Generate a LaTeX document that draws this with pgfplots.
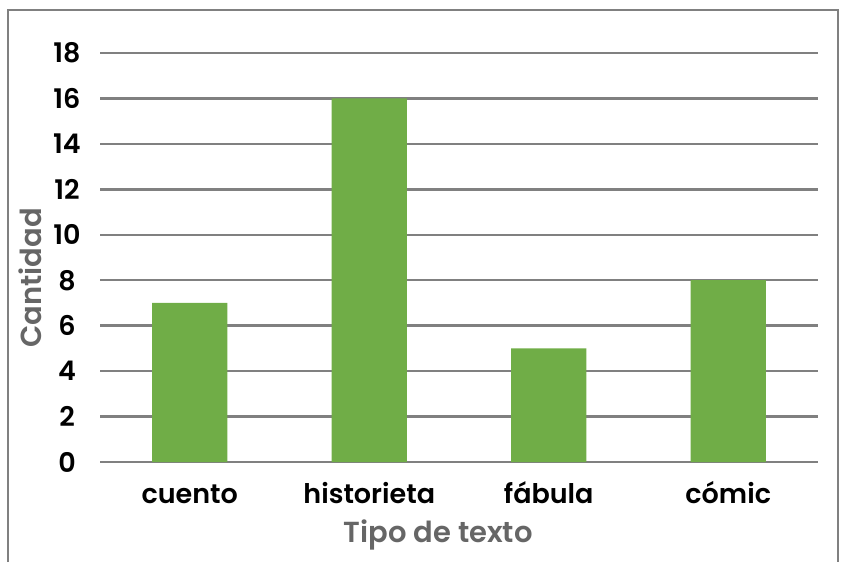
\documentclass[border=0pt]{standalone}
\usepackage{pgfplots}
\pgfplotsset{compat=1.18}
\usepackage{fontspec}
\setmainfont{Poppins}[BoldFont={Poppins SemiBold}]
\definecolor{barg}{HTML}{70AD47}
\definecolor{gridg}{HTML}{808080}
\definecolor{labg}{HTML}{666666}
\begin{document}
\begin{tikzpicture}[x=1pt,y=1pt]
\useasboundingbox (0,0) rectangle (843,562);
\draw[color=gridg, line width=2.5pt] (8,0) -- (8,552) -- (838,552) -- (838,0);
\begin{axis}[
  at={(100pt,100pt)}, anchor=south west,
  scale only axis, width=718pt, height=409pt,
  xmin=-0.5, xmax=3.5, ymin=0, ymax=18,
  ytick={0,2,...,18},
  xtick={0,1,2,3},
  xticklabels={cuento,historieta,fábula,cómic},
  axis line style={draw=none},
  major tick length=0pt,
  ymajorgrids, grid style={color=gridg, line width=2.5pt},
  /pgf/number format/assume math mode=true,
  tick label style={font=\fontsize{27}{30}\selectfont\bfseries},
  yticklabel style={anchor=center, xshift=-33pt},
  xticklabel style={anchor=base, yshift=-41pt},
  xlabel={Tipo de texto}, ylabel={Cantidad},
  label style={font=\fontsize{29}{31}\selectfont\bfseries, color=labg},
  xlabel style={at={(axis description cs:0.471,-0.1785)}, anchor=center},
  ylabel style={at={(axis description cs:-0.0975,0.45)}, anchor=center},
]
\addplot[ybar, bar width=0.42, fill=barg, draw=none] coordinates {(0,7) (1,16) (2,5) (3,8)};
\end{axis}
\end{tikzpicture}
\end{document}
